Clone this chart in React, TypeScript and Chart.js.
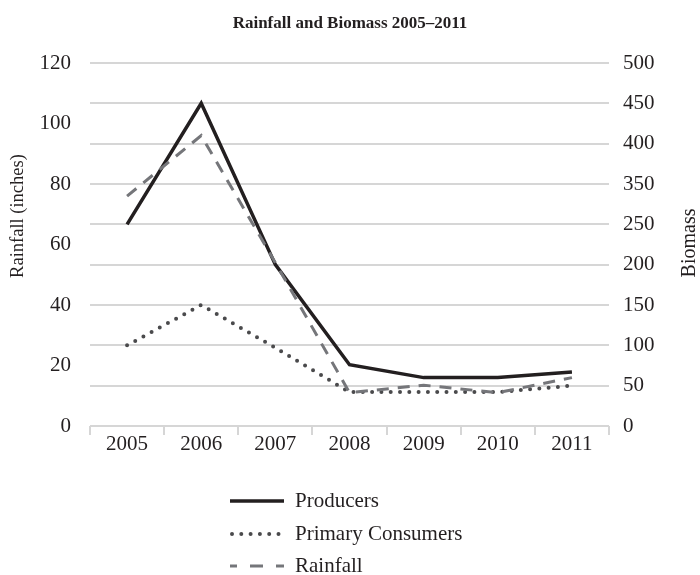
import React, { useEffect, useRef } from "react";
import { Chart, registerables } from "chart.js";

Chart.register(...registerables);

// ---- data ----
const years = ["2005", "2006", "2007", "2008", "2009", "2010", "2011"];
// Rainfall, inches (left axis)
const rainfall = [76, 96, 54, 11, 13.5, 11, 16];
// Biomass series, in units of the right axis' evenly spaced grid (50 per gridline)
const producers = [250, 400, 200, 76, 60, 60, 67];
const primaryConsumers = [100, 150, 97, 42, 42, 42, 50];
// Printed right-axis labels (the source skips 300)
const rightTickLabels = ["0", "50", "100", "150", "200", "250", "350", "400", "450", "500"];

const FONT = "'Liberation Serif', 'Times New Roman', serif";
const TEXT = "#231f20";
const GRID = "#d6d6d6";
const C_PROD = "#231f20";
const C_CONS = "#4a4a4c";
const C_RAIN = "#75767a";

const legendItems = [
  { label: "Producers", color: C_PROD, width: 3.5, dash: [] as number[], cap: "butt" as CanvasLineCap, offset: 0 },
  { label: "Primary Consumers", color: C_CONS, width: 4, dash: [0, 9.3], cap: "round" as CanvasLineCap, offset: 0 },
  { label: "Rainfall", color: C_RAIN, width: 3, dash: [13, 13], cap: "butt" as CanvasLineCap, offset: 6 },
];

const extrasPlugin = {
  id: "extras",
  afterDraw(chart: any) {
    const ctx = chart.ctx as CanvasRenderingContext2D;
    ctx.save();
    // axis titles
    ctx.fillStyle = TEXT;
    ctx.textAlign = "center";
    ctx.textBaseline = "middle";
    ctx.save();
    ctx.font = `18.5px ${FONT}`;
    ctx.translate(18, 216);
    ctx.rotate(-Math.PI / 2);
    ctx.fillText("Rainfall (inches)", 0, 0);
    ctx.restore();
    ctx.save();
    ctx.font = `20px ${FONT}`;
    ctx.translate(690, 243);
    ctx.rotate(-Math.PI / 2);
    ctx.fillText("Biomass", 0, 0);
    ctx.restore();

    // legend
    const rows = [501, 534, 566];
    legendItems.forEach((it, i) => {
      const y = rows[i];
      ctx.save();
      ctx.strokeStyle = it.color;
      ctx.lineWidth = it.width;
      ctx.lineCap = it.cap;
      ctx.setLineDash(it.dash);
      ctx.lineDashOffset = it.offset;
      ctx.beginPath();
      const x0 = it.cap === "round" ? 232 : 230;
      ctx.moveTo(x0, y);
      ctx.lineTo(284, y);
      ctx.stroke();
      ctx.restore();
      ctx.fillStyle = TEXT;
      ctx.font = `21px ${FONT}`;
      ctx.textAlign = "left";
      ctx.textBaseline = "middle";
      ctx.fillText(it.label, 295, y);
    });
    ctx.restore();
  },
};

export default function App() {
  const ref = useRef<HTMLCanvasElement | null>(null);

  useEffect(() => {
    if (!ref.current) return;
    const chart = new Chart(ref.current, {
      type: "line",
      data: {
        labels: years,
        datasets: [
          {
            label: "Producers",
            data: producers,
            yAxisID: "y1",
            borderColor: C_PROD,
            borderWidth: 3.5,
            pointRadius: 0,
            tension: 0,
            borderJoinStyle: "miter",
            order: 2,
          },
          {
            label: "Primary Consumers",
            data: primaryConsumers,
            yAxisID: "y1",
            borderColor: C_CONS,
            borderWidth: 4,
            borderDash: [0, 9.3],
            borderCapStyle: "round",
            pointRadius: 0,
            tension: 0,
            order: 1,
          },
          {
            label: "Rainfall",
            data: rainfall,
            yAxisID: "y",
            borderColor: C_RAIN,
            borderWidth: 3,
            borderDash: [12, 9],
            pointRadius: 0,
            tension: 0,
            borderJoinStyle: "miter",
            order: 0,
          },
        ],
      },
      options: {
        responsive: false,
        animation: false,
        devicePixelRatio: 1,
        layout: { padding: { left: 0, right: 0, top: 0, bottom: 109 } },
        plugins: {
          legend: { display: false },
          tooltip: { enabled: false },
          title: {
            display: true,
            text: "Rainfall and Biomass 2005–2011",
            color: TEXT,
            font: { family: FONT, size: 17, weight: "bold", lineHeight: 1.2 },
            padding: { top: 13, bottom: 29.6 },
          },
        },
        scales: {
          x: {
            type: "category",
            offset: true,
            grid: {
              display: true,
              offset: true,
              drawOnChartArea: false,
              drawTicks: true,
              tickLength: 9,
              color: GRID,
              lineWidth: 2,
            },
            border: { display: false },
            ticks: {
              color: TEXT,
              font: { family: FONT, size: 21, lineHeight: 1 },
              padding: -1,
              maxRotation: 0,
              autoSkip: false,
            },
            afterFit: (s: any) => {
              s.height = 40;
            },
          },
          y: {
            position: "left",
            min: 0,
            max: 120,
            grid: { display: false, drawTicks: false },
            border: { display: false },
            ticks: {
              stepSize: 20,
              color: TEXT,
              font: { family: FONT, size: 21 },
              padding: 19,
            },
            afterFit: (s: any) => {
              s.width = 90;
            },
          },
          y1: {
            position: "right",
            min: 0,
            max: 450,
            grid: { display: true, drawTicks: false, color: GRID, lineWidth: 2 },
            border: { display: false },
            ticks: {
              stepSize: 50,
              color: TEXT,
              font: { family: FONT, size: 21 },
              padding: 14,
              callback: (_v: any, i: number) => rightTickLabels[i],
            },
            afterFit: (s: any) => {
              s.width = 91;
            },
          },
        },
      },
      plugins: [extrasPlugin],
    });
    return () => chart.destroy();
  }, []);

  return (
    <div style={{ position: "fixed", left: 0, top: 0, width: 700, height: 575, background: "#fff" }}>
      <canvas ref={ref} width={700} height={575} style={{ display: "block", width: 700, height: 575 }} />
    </div>
  );
}
